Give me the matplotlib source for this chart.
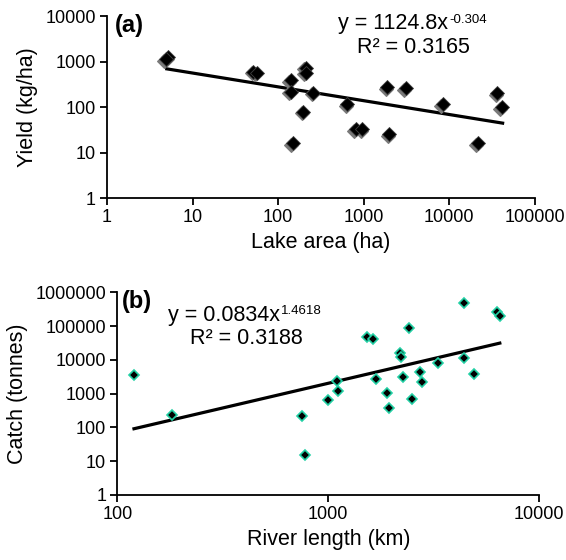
import numpy as np
import matplotlib
matplotlib.use("Agg")
import matplotlib.pyplot as plt
from matplotlib.transforms import offset_copy

plt.rcParams['font.family'] = ['Liberation Sans', 'DejaVu Sans']

# Panel (a): lake area vs yield
lake_area = [5.2, 4.9, 51, 56, 140, 140, 210, 210, 257, 196, 148, 641,
             811, 961, 1883, 1986, 3085, 8350, 21400, 36300, 40800]
lake_yield = [1234, 1120, 597, 568, 392, 217, 731, 568, 206, 79, 15.9, 116,
              32.3, 32.3, 271, 25, 257, 116, 15.9, 199, 98]
fit_a = (1124.8, -0.304)
fit_a_range = (5.0, 42000)

# Panel (b): river length vs catch
river_len = [120.4, 181, 747, 775, 1000, 1103, 1115, 1520, 1622, 1683, 1889,
             1945, 2187, 2209, 2266, 2411, 2500, 2718, 2788, 3298, 4395, 4415,
             4923, 6280, 6510]
river_catch = [3550, 233, 222, 15.3, 646, 2414, 1221, 46200, 40300, 2643, 1018,
               384, 16260, 12400, 3164, 89200, 692, 4456, 2155, 8230, 490000,
               11050, 3716, 253600, 202000]
fit_b = (0.0834, 1.4618)
fit_b_range = (120, 6500)

fig = plt.figure(figsize=(5.66, 5.60), dpi=100)

def style(ax):
    for s in ['top', 'right']:
        ax.spines[s].set_visible(False)
    for s in ['left', 'bottom']:
        ax.spines[s].set_linewidth(1.3)
    ax.tick_params(which='major', direction='out', length=5, width=1.3,
                   labelsize=13, pad=3)
    ax.tick_params(which='minor', length=0)
    fmt = matplotlib.ticker.FuncFormatter(lambda v, p: f"{v:.0f}")
    ax.xaxis.set_major_formatter(fmt)
    ax.yaxis.set_major_formatter(fmt)

def equation(ax, x, y, base, sup):
    t = ax.text(x, y, base, transform=ax.transAxes, fontsize=15.5,
                ha='left', va='baseline')
    fig.canvas.draw()
    bb = t.get_window_extent(renderer=fig.canvas.get_renderer())
    inv = ax.transAxes.inverted()
    x1, _ = inv.transform((bb.x1, bb.y0))
    tr = offset_copy(ax.transAxes, fig=fig, x=0.8, y=4.8, units='points')
    ax.text(x1, y, sup, transform=tr, fontsize=9.5, ha='left', va='baseline')

# ---- Panel (a)
ax1 = fig.add_axes([0.189, 0.6464, 0.756, 0.325])
ax1.set_xscale('log'); ax1.set_yscale('log')
ax1.set_xlim(1, 100000); ax1.set_ylim(1, 10000)
ax1.set_xticks([1, 10, 100, 1000, 10000, 100000])
ax1.set_yticks([1, 10, 100, 1000, 10000])
style(ax1)
shadow = offset_copy(ax1.transData, fig=fig, x=-1.6, y=-1.6, units='dots')
ax1.plot(lake_area, lake_yield, linestyle='none', marker='D', markersize=7.2,
         markerfacecolor='#7a7a7a', markeredgecolor='#7a7a7a', markeredgewidth=0.8,
         transform=shadow, clip_on=False, zorder=3)
ax1.plot(lake_area, lake_yield, linestyle='none', marker='D', markersize=7.0,
         markerfacecolor='black', markeredgecolor='#404040', markeredgewidth=0.6,
         clip_on=False, zorder=4)
xa = np.logspace(np.log10(fit_a_range[0]), np.log10(fit_a_range[1]), 100)
ax1.plot(xa, fit_a[0] * xa ** fit_a[1], color='black', lw=2.3, zorder=2)
ax1.set_xlabel('Lake area (ha)', fontsize=15.5, labelpad=4)
ax1.set_ylabel('Yield (kg/ha)', fontsize=15.5, labelpad=5)
ax1.text(0.018, 1.01, '(a)', transform=ax1.transAxes, fontsize=17, fontweight='bold',
         ha='left', va='top')
equation(ax1, 0.54, 0.926, 'y = 1124.8x', '-0.304')
ax1.text(0.584, 0.797, 'R² = 0.3165', transform=ax1.transAxes,
         fontsize=15.5, ha='left', va='baseline')

# ---- Panel (b)
ax2 = fig.add_axes([0.2072, 0.1161, 0.7456, 0.362])
ax2.set_xscale('log'); ax2.set_yscale('log')
ax2.set_xlim(100, 10000); ax2.set_ylim(1, 1000000)
ax2.set_xticks([100, 1000, 10000])
ax2.set_yticks([1, 10, 100, 1000, 10000, 100000, 1000000])
style(ax2)
ax2.plot(river_len, river_catch, linestyle='none', marker='D', markersize=5.2,
         markerfacecolor='black', markeredgecolor='#22d0a4', markeredgewidth=1.2,
         clip_on=False, zorder=3)
xb = np.logspace(np.log10(fit_b_range[0]), np.log10(fit_b_range[1]), 100)
ax2.plot(xb, fit_b[0] * xb ** fit_b[1], color='black', lw=2.3, zorder=2)
ax2.set_xlabel('River length (km)', fontsize=15.5, labelpad=4)
ax2.set_ylabel('Catch (tonnes)', fontsize=15.5, labelpad=5)
ax2.text(0.01, 1.01, '(b)', transform=ax2.transAxes, fontsize=17, fontweight='bold',
         ha='left', va='top')
equation(ax2, 0.12, 0.858, 'y = 0.0834x', '1.4618')
ax2.text(0.172, 0.743, 'R² = 0.3188', transform=ax2.transAxes,
         fontsize=15.5, ha='left', va='baseline')

fig.savefig('out.png', dpi=100)
